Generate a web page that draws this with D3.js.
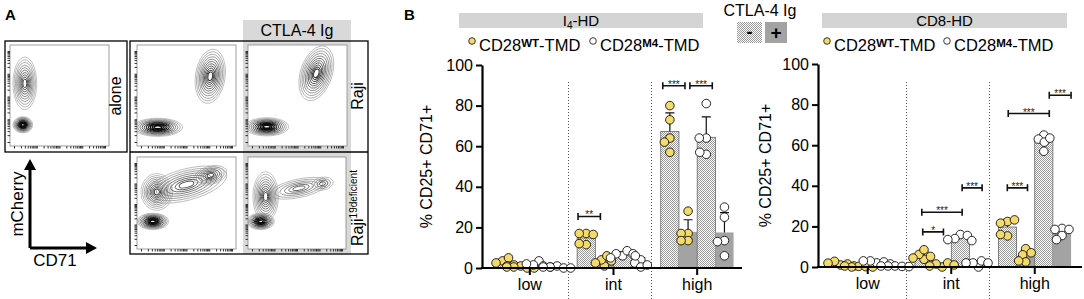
<!DOCTYPE html>
<html>
<head>
<meta charset="utf-8">
<script src="https://cdn.jsdelivr.net/npm/d3@7"></script>
<style>
  body { margin: 0; background: #fff; }
  svg { display: block; font-family: "Liberation Sans", Arial, sans-serif; }
</style>
</head>
<body>
<div id="chart"></div>
<script>
// ---------- panel B data (% CD25+ CD71+) ----------
var groups = ["low", "int", "high"];
var barKeys = ["WT-", "WT+", "M4-", "M4+"];   // CD28 construct, CTLA-4 Ig -/+

// I4-HD : each group = [WT -, WT +, M4 -, M4 +], 5 replicates each
var i4Low  = [[3.5, 2.5, 5, 1, 1.5], [1, 0.5, 0, 0, 0.5], [3.5, 1.5, 1, 0.5, 2], [1, 0.5, 0, 0, 0.5]];
var i4Int  = [[17, 17, 16.5, 11.5, 12], [1, 4, 6, 3.5, 2.5], [6, 7, 8.5, 7, 5], [4, 2.5, 6, 0.5, 1.5]];
var i4High = [[80, 73, 64, 62, 57], [28, 17, 17, 13.5, 13.5], [81, 64, 64, 56, 57], [30, 25, 13.5, 13, 6]];

// CD8-HD
var cd8Low  = [[1, 2.8, 1.5, 1.9, 0.5], [0.3, 0, 0.2, 0.5, 0], [2, 3, 2.5, 3, 1.5], [0.5, 0.5, 0.3, 0.5, 0.2]];
var cd8Int  = [[3.8, 6.2, 8.5, 5.2, 4.4], [0, 1.5, 2, 1, 0.5], [16, 14, 15.5, 13, 13.5], [0, 2, 3, 2, 2]];
var cd8High = [[22.4, 21.6, 23.2, 15.3, 16], [9, 6, 2.5, 3, 7], [65, 63, 61.5, 57, 63.5], [19, 18.5, 18.5, 15.5, 13.5]];

// significance brackets: [group, from (bar units), to (bar units), level, label]
var i4Brackets = [["int", 0.05, 1.28, 25.4, "**"], ["high", 0.11, 1.33, 89.8, "***"], ["high", 1.6, 2.83, 89.8, "***"]];
var cd8Brackets = [["int", 0.43, 1.57, 17.3, "*"], ["int", 0.38, 2.6, 27, "***"], ["int", 2.6, 3.7, 39, "***"],
                   ["high", 0.49, 1.6, 39, "***"], ["high", 0.54, 2.8, 75.6, "***"], ["high", 2.8, 4.0, 84.6, "***"]];

var yTicks = [0, 20, 40, 60, 80, 100];

// ---------- panel A: contour populations [cx, cy, rx, ry, angle, levels, darkness] ----------
var aloneClusters = [[0.15, 0.62, 0.12, 0.26, 0, 10, 0.5], [0.13, 0.21, 0.10, 0.08, 0, 11, 1.0]];
var rajiClusters = [[0.21, 0.185, 0.25, 0.09, 0, 11, 1.0], [0.74, 0.69, 0.15, 0.27, 8, 11, 0.55]];
var rajiCtlaClusters = [[0.19, 0.19, 0.22, 0.09, 0, 11, 1.0], [0.69, 0.72, 0.16, 0.28, 18, 11, 0.55]];
var rajiDefClusters = [[0.16, 0.30, 0.16, 0.09, 0, 11, 1.0], [0.2, 0.62, 0.16, 0.2, 0, 10, 0.55],
                       [0.5, 0.7, 0.42, 0.17, -15, 8, 0.45], [0.74, 0.8, 0.17, 0.1, -15, 7, 0.5]];
var rajiDefCtlaClusters = [[0.13, 0.30, 0.14, 0.09, 0, 11, 1.0], [0.18, 0.57, 0.13, 0.27, 0, 10, 0.55],
                           [0.52, 0.66, 0.3, 0.1, -12, 6, 0.4], [0.76, 0.71, 0.11, 0.07, -10, 4, 0.5]];

var YELLOW = "#f4d96b";
var GRAYBAR = "#a3a3a3";
var FONT = '"Liberation Sans", Arial, sans-serif';

var svg = d3.select('#chart').append('svg')
  .attr('width', 1084)
  .attr('height', 299);

var defs = svg.append('defs');
var pat = defs.append('pattern').attr('id', 'stip')
  .attr('width', 2).attr('height', 2).attr('patternUnits', 'userSpaceOnUse');
pat.append('rect').attr('width', 2).attr('height', 2).attr('fill', '#fff');
pat.append('rect').attr('width', 1).attr('height', 1).attr('fill', '#999');
pat.append('rect').attr('x', 1).attr('y', 1).attr('width', 1).attr('height', 1).attr('fill', '#999');

// ================= PANEL A =================
svg.append('text').attr('x', 5).attr('y', 20).attr('font-weight', 'bold').attr('font-size', 15).text('A');

svg.append('rect').attr('x', 243).attr('y', 20).attr('width', 108).attr('height', 234).attr('fill', '#d9d9d9');
svg.append('text').attr('x', 297).attr('y', 36).attr('text-anchor', 'middle').attr('font-size', 16).text('CTLA-4 Ig');

var clipId = 0;
function flowPlot(px, py, pw, ph, clusters) {
  var sx = d3.scaleLinear().domain([0, 1]).range([px, px + pw]);
  var sy = d3.scaleLinear().domain([0, 1]).range([py + ph, py]);
  var id = 'fc' + (clipId++);
  defs.append('clipPath').attr('id', id).append('rect')
    .attr('x', px).attr('y', py).attr('width', pw).attr('height', ph);
  var g = svg.append('g');
  g.append('rect').attr('x', px).attr('y', py).attr('width', pw).attr('height', ph)
    .attr('fill', '#fff');
  var cg = g.append('g').attr('clip-path', 'url(#' + id + ')');
  clusters.forEach(function(c) {
    var n = c[5];
    d3.range(n).forEach(function(k) {
      var t = k / n;
      var s = Math.pow(1 - t, 1.15) * 0.9 + 0.1;
      var col = d3.interpolateRgb('#9a9a9a', '#0a0a0a')(Math.min(1, t * c[6] * 1.5));
      cg.append('ellipse')
        .attr('cx', sx(c[0])).attr('cy', sy(c[1]))
        .attr('rx', c[2] * pw * s).attr('ry', c[3] * ph * s)
        .attr('transform', 'rotate(' + c[4] + ',' + sx(c[0]) + ',' + sy(c[1]) + ')')
        .attr('fill', 'none')
        .attr('stroke', col)
        .attr('stroke-width', 0.6 + 0.8 * t * c[6]);
    });
  });
  g.append('rect').attr('x', px).attr('y', py).attr('width', pw).attr('height', ph)
    .attr('fill', 'none').attr('stroke', '#888').attr('stroke-width', 0.8);
  var lx = d3.scaleLog().domain([10, 1e5]).range([px + 4, px + pw - 4]);
  var ly = d3.scaleLog().domain([10, 1e5]).range([py + ph - 4, py + 6]);
  g.append('g').attr('transform', 'translate(0,' + (py + ph) + ')')
    .call(d3.axisBottom(lx).tickSize(2.5).tickFormat('').tickSizeOuter(0))
    .call(function(a) { a.select('.domain').remove(); a.selectAll('line').attr('stroke', '#333'); });
  g.append('g').attr('transform', 'translate(' + px + ',0)')
    .call(d3.axisLeft(ly).tickSize(2.5).tickFormat('').tickSizeOuter(0))
    .call(function(a) { a.select('.domain').remove(); a.selectAll('line').attr('stroke', '#333'); });
}

flowPlot(10, 45, 99, 101, aloneClusters);
flowPlot(137, 45, 99, 101, rajiClusters);
flowPlot(248, 45, 99, 101, rajiCtlaClusters);
flowPlot(137, 157, 99, 92, rajiDefClusters);
flowPlot(248, 157, 98, 92, rajiDefCtlaClusters);

svg.append('rect').attr('x', 5).attr('y', 41).attr('width', 122).attr('height', 111)
  .attr('fill', 'none').attr('stroke', '#000').attr('stroke-width', 1.3);
svg.append('rect').attr('x', 130).attr('y', 41).attr('width', 238).attr('height', 213)
  .attr('fill', 'none').attr('stroke', '#000').attr('stroke-width', 1.3);
svg.append('line').attr('x1', 130).attr('x2', 368).attr('y1', 152).attr('y2', 152)
  .attr('stroke', '#000').attr('stroke-width', 1.3);

svg.append('text').attr('transform', 'translate(121,96) rotate(-90)')
  .attr('text-anchor', 'middle').attr('font-size', 16).text('alone');
svg.append('text').attr('transform', 'translate(363,96) rotate(-90)')
  .attr('text-anchor', 'middle').attr('font-size', 16).text('Raji');
var rd = svg.append('text').attr('transform', 'translate(363,208) rotate(-90)')
  .attr('text-anchor', 'middle').attr('font-size', 16);
rd.append('tspan').text('Raji');
rd.append('tspan').attr('font-size', 10).attr('dy', -6).text('19deficient');

// axis arrows
svg.append('path').attr('d', 'M30,248 V168 M30,248 H88')
  .attr('fill', 'none').attr('stroke', '#000').attr('stroke-width', 3);
svg.append('path').attr('d', 'M24,170 L30,159 L36,170 Z M86,242 L97,248 L86,254 Z').attr('fill', '#000');
svg.append('text').attr('transform', 'translate(23,204) rotate(-90)')
  .attr('text-anchor', 'middle').attr('font-size', 17).text('mCherry');
svg.append('text').attr('x', 55).attr('y', 266).attr('text-anchor', 'middle')
  .attr('font-size', 17).text('CD71');

// ================= PANEL B =================
svg.append('text').attr('x', 404).attr('y', 20).attr('font-weight', 'bold').attr('font-size', 15).text('B');

// CTLA-4 Ig key
svg.append('text').attr('x', 760).attr('y', 16).attr('text-anchor', 'middle').attr('font-size', 16).text('CTLA-4 Ig');
svg.append('rect').attr('x', 737).attr('y', 22).attr('width', 25).attr('height', 21).attr('fill', 'url(#stip)');
svg.append('rect').attr('x', 765).attr('y', 22).attr('width', 22).attr('height', 21).attr('fill', GRAYBAR);
svg.append('text').attr('x', 749.5).attr('y', 38).attr('text-anchor', 'middle')
  .attr('font-size', 18).attr('font-weight', 'bold').text('-');
svg.append('text').attr('x', 776).attr('y', 39).attr('text-anchor', 'middle')
  .attr('font-size', 19).attr('font-weight', 'bold').text('+');

function legendItem(x, fill, sup) {
  svg.append('circle').attr('cx', x).attr('cy', 41).attr('r', 3.3)
    .attr('fill', fill).attr('stroke', '#222').attr('stroke-width', 0.9);
  var t = svg.append('text').attr('x', x + 7).attr('y', 51).attr('font-size', 16.5);
  t.append('tspan').text('CD28');
  t.append('tspan').attr('font-size', 11.5).attr('font-weight', 'bold').attr('dy', -4).text(sup);
  t.append('tspan').attr('dy', 4).text('-TMD');
}

function barChart(cfg) {
  var g = svg.append('g');
  var y = d3.scaleLinear().domain([0, 100]).range([cfg.yB, cfg.yT]);
  var x = d3.scaleBand().domain(groups).range([cfg.bandL, cfg.bandR]);
  var inner = d3.scaleBand().domain(barKeys).range([0, x.bandwidth() * 0.87]);
  var off = (x.bandwidth() - inner.range()[1]) / 2;
  var bw = inner.bandwidth();
  function barLeft(gr, i) { return x(gr) + off + inner(barKeys[i]); }

  // header strip
  g.append('rect').attr('x', cfg.hx0).attr('y', 13).attr('width', cfg.hx1 - cfg.hx0).attr('height', 15)
    .attr('fill', '#d4d4d4');
  var ht = g.append('text').attr('x', (cfg.hx0 + cfg.hx1) / 2).attr('y', 26)
    .attr('text-anchor', 'middle').attr('font-size', 15);
  cfg.header(ht);

  legendItem(cfg.leg1, YELLOW, 'WT');
  legendItem(cfg.leg2, '#fff', 'M4');

  // group separators
  groups.slice(0, 2).forEach(function(gr) {
    var sx = Math.round(x(gr) + off + inner.range()[1] + 1.5) + 0.5;
    g.append('line').attr('x1', sx).attr('x2', sx).attr('y1', 82).attr('y2', 299)
      .attr('stroke', '#555').attr('stroke-width', 1).attr('stroke-dasharray', '1,2');
  });

  var rows = [];
  groups.forEach(function(gr, gi) {
    cfg.values[gi].forEach(function(pts, bi) {
      rows.push({ group: gr, bar: bi, pts: pts, mean: d3.mean(pts), sd: d3.deviation(pts) });
    });
  });

  g.selectAll('rect.bar').data(rows).enter().append('rect')
    .attr('class', 'bar')
    .attr('x', function(d) { return barLeft(d.group, d.bar); })
    .attr('width', bw)
    .attr('y', function(d) { return y(d.mean); })
    .attr('height', function(d) { return y(0) - y(d.mean); })
    .attr('fill', function(d) { return d.bar % 2 === 0 ? 'url(#stip)' : GRAYBAR; })
    .attr('stroke', function(d) { return d.bar % 2 === 0 ? '#555' : 'none'; })
    .attr('stroke-width', 0.7);

  // error bars (mean + SD)
  rows.forEach(function(d) {
    var cx = barLeft(d.group, d.bar) + bw / 2;
    g.append('path')
      .attr('d', 'M' + cx + ',' + y(d.mean) + 'V' + y(d.mean + d.sd) + 'M' + (cx - 4.5) + ',' + y(d.mean + d.sd) + 'H' + (cx + 4.5))
      .attr('fill', 'none').attr('stroke', '#111').attr('stroke-width', 1.2);
  });

  // dots, simple beeswarm
  var r = 4.3;
  rows.forEach(function(d) {
    var cx = barLeft(d.group, d.bar) + bw / 2;
    var placed = [];
    d.pts.forEach(function(v) {
      var py = y(v);
      var dx = 0;
      for (var k = 0; k < 200; k++) {
        var cand = (k % 2 === 0 ? 1 : -1) * Math.ceil(k / 2) * 0.5;
        var ok = placed.every(function(p) {
          return (cand - p[0]) * (cand - p[0]) + (py - p[1]) * (py - p[1]) >= (2 * r * 0.78) * (2 * r * 0.78);
        });
        if (ok) { dx = cand; break; }
      }
      placed.push([dx, py]);
      g.append('circle').attr('cx', cx + dx).attr('cy', py).attr('r', r)
        .attr('fill', d.bar < 2 ? YELLOW : '#fff')
        .attr('stroke', '#111').attr('stroke-width', 0.9);
    });
  });

  // brackets
  cfg.brackets.forEach(function(b) {
    var gx = x(b[0]) + off;
    var x1 = gx + b[1] * bw, x2 = gx + b[2] * bw, by = y(b[3]);
    g.append('path').attr('d', 'M' + x1 + ',' + (by - 3.5) + 'V' + (by + 3.5) + 'M' + x1 + ',' + by + 'H' + x2 + 'M' + x2 + ',' + (by - 3.5) + 'V' + (by + 3.5))
      .attr('fill', 'none').attr('stroke', '#111').attr('stroke-width', 1.6);
    g.append('text').attr('x', (x1 + x2) / 2).attr('y', by + 2).attr('text-anchor', 'middle')
      .attr('font-size', 10).attr('fill', '#222').text(b[4]);
  });

  // axes
  var ya = g.append('g').attr('transform', 'translate(' + cfg.axisX + ',0)')
    .call(d3.axisLeft(y).tickValues(yTicks).tickSize(6).tickSizeOuter(0).tickPadding(3));
  ya.select('.domain').attr('stroke-width', 2.2);
  ya.selectAll('.tick line').attr('stroke-width', 2);
  ya.selectAll('text').attr('font-size', 16).attr('font-family', FONT);

  g.append('line').attr('x1', cfg.axisX - 1).attr('x2', cfg.axisEnd).attr('y1', y(0)).attr('y2', y(0))
    .attr('stroke', '#000').attr('stroke-width', 2.2);
  var xa = g.append('g').attr('transform', 'translate(0,' + y(0) + ')')
    .call(d3.axisBottom(x).tickSize(7).tickPadding(4));
  xa.select('.domain').remove();
  xa.selectAll('.tick line').attr('stroke-width', 2);
  xa.selectAll('text').attr('font-size', 16).attr('font-family', FONT);

  g.append('text').attr('transform', 'translate(' + cfg.titleX + ',' + ((cfg.yB + cfg.yT) / 2) + ') rotate(-90)')
    .attr('text-anchor', 'middle').attr('font-size', 16).attr('dy', '0.35em').text('% CD25+ CD71+');
}

barChart({
  axisX: 482, bandL: 488, bandR: 739, axisEnd: 742, yB: 268, yT: 65,
  values: [i4Low, i4Int, i4High], brackets: i4Brackets,
  hx0: 459, hx1: 703, leg1: 472, leg2: 593, titleX: 426,
  header: function(t) {
    t.append('tspan').text('I');
    t.append('tspan').attr('font-size', 10).attr('dy', 3).text('4');
    t.append('tspan').attr('dy', -3).text('-HD');
  }
});

barChart({
  axisX: 818, bandL: 826, bandR: 1076.5, axisEnd: 1082, yB: 267, yT: 64,
  values: [cd8Low, cd8Int, cd8High], brackets: cd8Brackets,
  hx0: 822, hx1: 1067, leg1: 827, leg2: 947, titleX: 765,
  header: function(t) { t.text('CD8-HD'); }
});
</script>
</body>
</html>
